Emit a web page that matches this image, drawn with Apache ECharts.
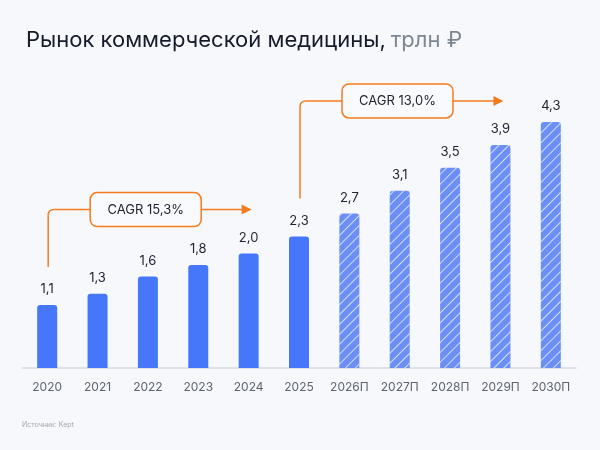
<!DOCTYPE html>
<html>
<head>
<meta charset="utf-8">
<script src="https://cdn.jsdelivr.net/npm/echarts@6/dist/echarts.min.js"></script>
<style>
  html, body { margin: 0; padding: 0; background: #f7f8fc; }
  #main { width: 600px; height: 450px; }
</style>
</head>
<body>
<div id="main"></div>
<script>
// данные
const years = ['2020', '2021', '2022', '2023', '2024', '2025', '2026П', '2027П', '2028П', '2029П', '2030П'];
const values = [1.1, 1.3, 1.6, 1.8, 2.0, 2.3, 2.7, 3.1, 3.5, 3.9, 4.3];
const forecastFrom = 6; // с 2026П — прогноз
const cagrNotes = [
  { from: '2020', to: '2024', text: 'CAGR 15,3%' },
  { from: '2025', to: '2029П', text: 'CAGR 13,0%' }
];

const FONT = 'Inter, "Noto Sans", sans-serif';
const ORANGE = '#f47b20';

const chart = echarts.init(document.getElementById('main'), null, { renderer: 'canvas' });

const barData = values.map((v, i) => {
  if (i < forecastFrom) {
    return { value: v, itemStyle: { color: '#4677fb' } };
  }
  return {
    value: v,
    itemStyle: {
      color: '#6b8ff6',
      decal: {
        symbol: 'rect',
        symbolSize: 1,
        color: 'rgba(255,255,255,0.7)',
        dashArrayX: [1, 0],
        dashArrayY: [1, 6],
        rotation: -Math.PI / 4
      }
    }
  };
});

const option = {
  backgroundColor: '#f7f8fc',
  animation: false,
  title: {
    left: 21,
    top: 24,
    text: '{a|Рынок коммерческой медицины,} {b|трлн ₽}',
    textStyle: {
      rich: {
        a: { fontFamily: FONT, fontSize: 22, fontWeight: 'normal', color: '#161b2c' },
        b: { fontFamily: FONT, fontSize: 22, fontWeight: 'normal', color: '#7d8791' }
      }
    }
  },
  grid: { left: 22, right: 24, top: 82, bottom: 82 },
  xAxis: {
    type: 'category',
    data: years,
    axisLine: { lineStyle: { color: '#d3d9e3', width: 1.5 } },
    axisTick: { show: false },
    axisLabel: { interval: 0, color: '#5d6470', fontSize: 12, fontFamily: FONT, margin: 13 }
  },
  yAxis: { type: 'value', min: 0, max: 5, show: false },
  series: [{
    type: 'bar',
    data: barData,
    barWidth: 20,
    itemStyle: { borderRadius: [3, 3, 0, 0] },
    label: {
      show: true,
      position: 'top',
      distance: 9,
      color: '#1d2130',
      fontSize: 13,
      fontFamily: FONT,
      formatter: p => p.value.toFixed(1).replace('.', ',')
    }
  }]
};

chart.setOption(option);

// стрелки CAGR
function buildNotes() {
  const els = [];
  const line = { stroke: ORANGE, lineWidth: 1.5 };
  cagrNotes.forEach(n => {
    const fi = years.indexOf(n.from);
    const ti = years.indexOf(n.to);
    const pFrom = chart.convertToPixel({ gridIndex: 0 }, [fi, values[fi]]);
    const pTo = chart.convertToPixel({ gridIndex: 0 }, [ti, values[ti]]);
    const x0 = pFrom[0] + 1;
    const yBottom = pFrom[1] - 38;
    const yLine = pTo[1] - 44;
    const boxL = x0 + 42, boxW = 111, boxH = 34;
    const tip = pTo[0] + 3;
    const r = 6;
    els.push({
      type: 'line',
      shape: { x1: x0, y1: yBottom, x2: x0, y2: yLine + r },
      style: line
    });
    els.push({
      type: 'bezierCurve',
      shape: { x1: x0, y1: yLine + r, cpx1: x0, cpy1: yLine, x2: x0 + r, y2: yLine },
      style: Object.assign({ fill: null }, line)
    });
    els.push({
      type: 'line',
      shape: { x1: x0 + r, y1: yLine, x2: boxL, y2: yLine },
      style: line
    });
    els.push({
      type: 'line',
      shape: { x1: boxL + boxW, y1: yLine, x2: tip - 9, y2: yLine },
      style: line
    });
    els.push({
      type: 'polygon',
      shape: { points: [[tip - 10, yLine - 5], [tip, yLine], [tip - 10, yLine + 5]] },
      style: { fill: ORANGE }
    });
    els.push({
      type: 'rect',
      shape: { x: boxL, y: yLine - boxH / 2, width: boxW, height: boxH, r: 7 },
      style: { fill: '#f9fafd', stroke: ORANGE, lineWidth: 1.5 }
    });
    els.push({
      type: 'text',
      x: boxL + boxW / 2,
      y: yLine,
      style: {
        text: n.text, fill: '#1d2130', fontSize: 13, fontFamily: FONT,
        align: 'center', verticalAlign: 'middle'
      }
    });
  });
  els.push({
    type: 'text',
    left: 22,
    top: 421,
    style: { text: 'Источник: Kept', fill: '#a3a8b0', fontSize: 7, fontFamily: FONT }
  });
  return els;
}

chart.setOption({ graphic: buildNotes() });
</script>
</body>
</html>
